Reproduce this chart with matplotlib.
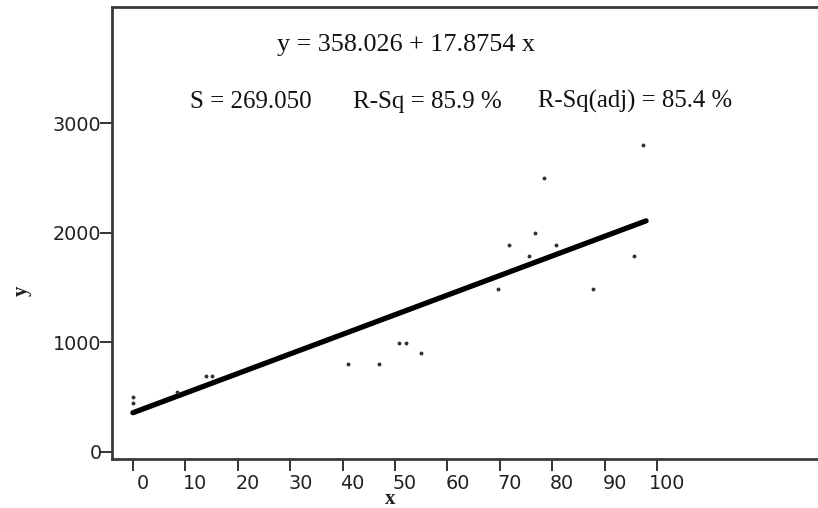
import numpy as np
import matplotlib
matplotlib.use('Agg')
import matplotlib.pyplot as plt
from matplotlib.transforms import ScaledTranslation

#---Data---
x_obs = [0, 0, 8.4, 14, 15, 41, 47, 50.8, 52, 55, 69.7, 71.8, 75.6, 76.8, 78.4, 80.7, 87.8, 95.6, 97.3]
y_obs = [500, 445, 545, 690, 690, 800, 800, 990, 990, 900, 1490, 1890, 1790, 2000, 2500, 1890, 1490, 1790, 2800]
b0 = 358.026
b1 = 17.8754
x_fit = np.array([0, 97.9])
y_fit = b0 + b1*x_fit
x_ticks = [0, 10, 20, 30, 40, 50, 60, 70, 80, 90, 100]
y_ticks = [0, 1000, 2000, 3000]

#---Plot---
fig = plt.figure(figsize=(8.18, 5.08), dpi=100)
W, H = 818.0, 508.0
ax = fig.add_axes([112/W, 1-459/H, 1-112/W, (459-7)/H])

ax.plot(x_fit, y_fit, color='black', linewidth=3.8, solid_capstyle='round')
ax.plot(x_obs, y_obs, 'o', color='#333333', markersize=1.8, linestyle='none')

ax.set_xlim(-4.0, 130.7)
ax.set_ylim(-64, 4058)
ax.set_xticks(x_ticks)
ax.set_yticks(y_ticks)
ax.set_xticklabels([str(v) for v in x_ticks])
ax.set_yticklabels([str(v) for v in y_ticks])

for s in ['left', 'bottom', 'top']:
    ax.spines[s].set_linewidth(2.0)
    ax.spines[s].set_color('#3a3a3a')
ax.spines['right'].set_visible(False)

ax.tick_params(axis='both', direction='out', length=8.5, width=1.3, color='#222222',
               labelsize=13.8, labelcolor='#222222')
ax.tick_params(axis='x', pad=2)
ax.tick_params(axis='y', pad=-1)
for lab in ax.get_xticklabels():
    lab.set_transform(lab.get_transform() + ScaledTranslation(10/100, 0, fig.dpi_scale_trans))

# text annotations (serif, like the original)
serif = 'Liberation Serif'
fig.text(277/W, 1-51/H, 'y = 358.026 + 17.8754 x', family=serif, fontsize=18.8,
         ha='left', va='baseline', color='#111111')
fig.text(190/W, 1-108/H, 'S = 269.050', family=serif, fontsize=18,
         ha='left', va='baseline', color='#111111')
fig.text(353/W, 1-108/H, 'R-Sq = 85.9 %', family=serif, fontsize=18,
         ha='left', va='baseline', color='#111111')
fig.text(538/W, 1-108/H, 'R-Sq(adj) = 85.4 %', family=serif, fontsize=17.8,
         ha='left', va='baseline', color='#111111')

fig.text(22/W, 1-291/H, 'y', family=serif, fontsize=15, fontweight='bold',
         rotation=90, ha='center', va='center', color='#222222')
fig.text(390/W, 1-499/H, 'x', family=serif, fontsize=15, fontweight='bold',
         ha='center', va='center', color='#222222')

fig.savefig('out.png', dpi=100)
